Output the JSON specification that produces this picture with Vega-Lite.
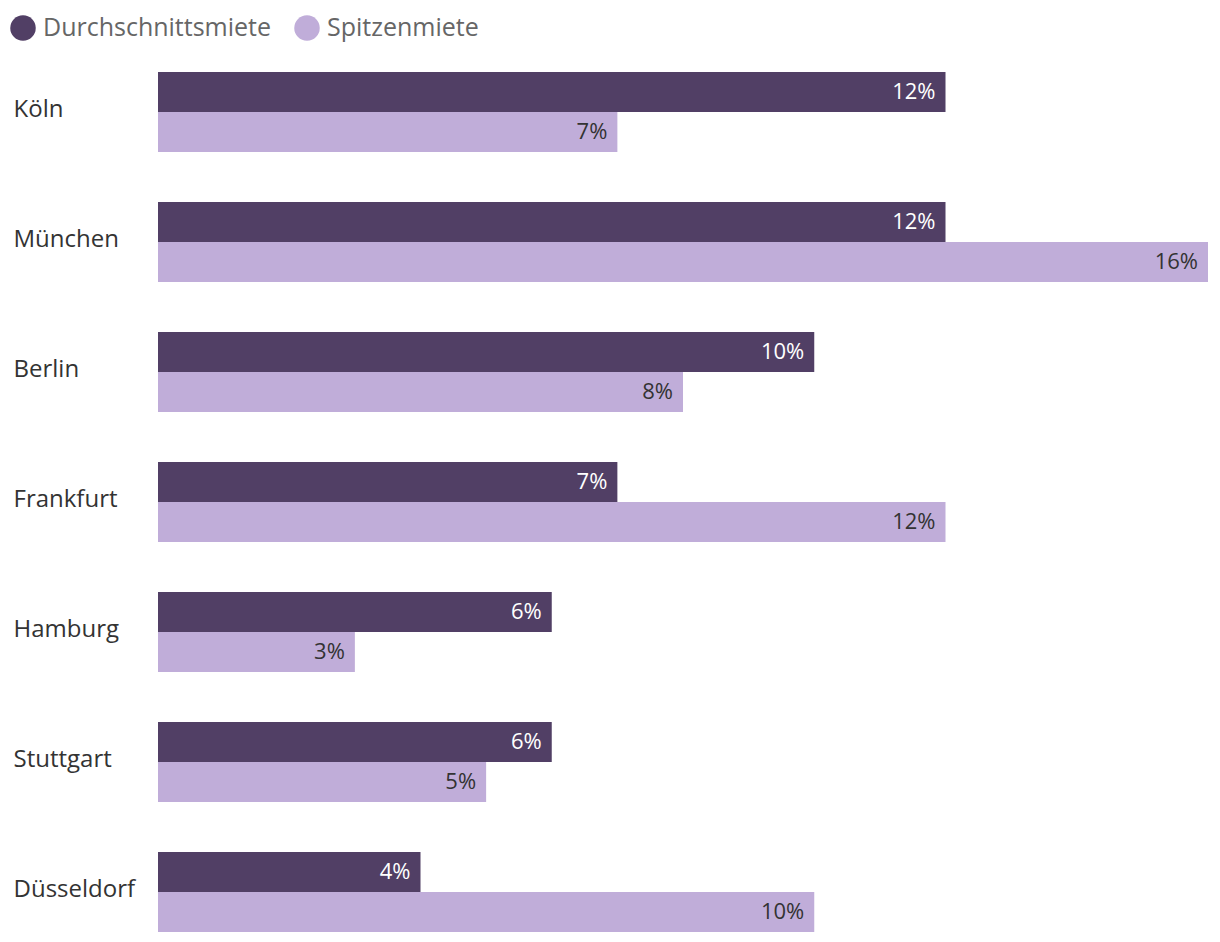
{
  "$schema": "https://vega.github.io/schema/vega-lite/v6.json",
  "autosize": "none",
  "width": 1050,
  "height": 860,
  "padding": {"left": 158, "top": 72, "right": 12, "bottom": 10},
  "background": "#ffffff",
  "config": {
    "view": {"stroke": null},
    "font": "Open Sans"
  },
  "data": {
    "values": [
      {"Stadt": "Köln", "Kategorie": "Durchschnittsmiete", "Wert": 0.12},
      {"Stadt": "Köln", "Kategorie": "Spitzenmiete", "Wert": 0.07},
      {"Stadt": "München", "Kategorie": "Durchschnittsmiete", "Wert": 0.12},
      {"Stadt": "München", "Kategorie": "Spitzenmiete", "Wert": 0.16},
      {"Stadt": "Berlin", "Kategorie": "Durchschnittsmiete", "Wert": 0.10},
      {"Stadt": "Berlin", "Kategorie": "Spitzenmiete", "Wert": 0.08},
      {"Stadt": "Frankfurt", "Kategorie": "Durchschnittsmiete", "Wert": 0.07},
      {"Stadt": "Frankfurt", "Kategorie": "Spitzenmiete", "Wert": 0.12},
      {"Stadt": "Hamburg", "Kategorie": "Durchschnittsmiete", "Wert": 0.06},
      {"Stadt": "Hamburg", "Kategorie": "Spitzenmiete", "Wert": 0.03},
      {"Stadt": "Stuttgart", "Kategorie": "Durchschnittsmiete", "Wert": 0.06},
      {"Stadt": "Stuttgart", "Kategorie": "Spitzenmiete", "Wert": 0.05},
      {"Stadt": "Düsseldorf", "Kategorie": "Durchschnittsmiete", "Wert": 0.04},
      {"Stadt": "Düsseldorf", "Kategorie": "Spitzenmiete", "Wert": 0.10}
    ]
  },
  "encoding": {
    "y": {
      "field": "Stadt",
      "type": "nominal",
      "sort": null,
      "scale": {"paddingInner": 0.3846, "paddingOuter": 0},
      "axis": {
        "title": null,
        "domain": false,
        "ticks": false,
        "labelAlign": "left",
        "labelPadding": 145,
        "labelFontSize": 24,
        "labelColor": "#333333",
        "labelOffset": -2
      }
    },
    "yOffset": {
      "field": "Kategorie",
      "type": "nominal",
      "scale": {"paddingInner": 0, "paddingOuter": 0}
    },
    "x": {
      "field": "Wert",
      "type": "quantitative",
      "scale": {"domain": [0, 0.16], "nice": false},
      "axis": null
    }
  },
  "layer": [
    {
      "mark": {"type": "bar", "cornerRadius": 0},
      "encoding": {
        "color": {
          "field": "Kategorie",
          "type": "nominal",
          "scale": {"domain": ["Durchschnittsmiete", "Spitzenmiete"], "range": ["#513F65", "#C0ADD9"]},
          "legend": {
            "title": null,
            "orient": "none",
            "direction": "horizontal",
            "legendX": -148,
            "legendY": -57,
            "symbolType": "circle",
            "symbolSize": 650,
            "symbolStrokeWidth": 0,
            "symbolOpacity": 1,
            "labelFontSize": 25,
            "labelLimit": 0,
            "labelColor": "#666666",
            "labelOffset": 7,
            "columnPadding": 22,
            "padding": 0
          }
        }
      }
    },
    {
      "mark": {"type": "text", "align": "right", "baseline": "middle", "dx": -10, "fontSize": 22},
      "encoding": {
        "text": {"field": "Wert", "type": "quantitative", "format": ".0%"},
        "color": {
          "field": "Kategorie",
          "type": "nominal",
          "scale": {"domain": ["Durchschnittsmiete", "Spitzenmiete"], "range": ["#ffffff", "#333333"]},
          "legend": null
        }
      }
    }
  ],
  "resolve": {"scale": {"color": "independent"}}
}
